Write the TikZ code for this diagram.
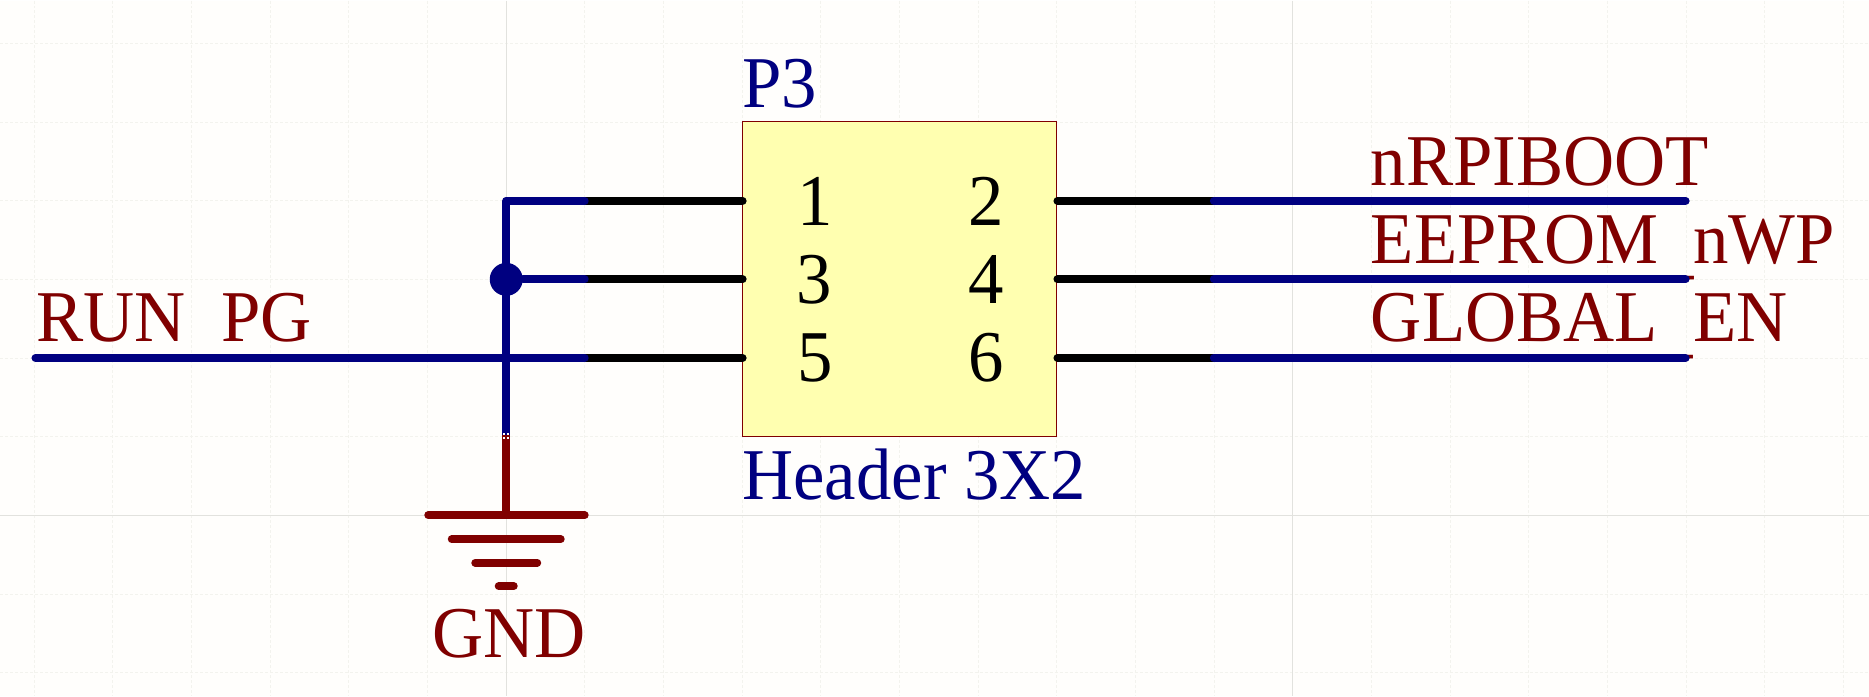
\documentclass[tikz,border=0pt]{standalone}
\usepackage{fontspec}
\setmainfont{Liberation Serif}[FakeStretch=0.97]
\usepackage{xcolor}
\usetikzlibrary{positioning}
\definecolor{sheetbg}{RGB}{255, 254, 252}
\definecolor{gridmajor}{RGB}{226, 226, 222}
\definecolor{gridminor}{RGB}{243, 243, 238}
\definecolor{partfill}{RGB}{255, 255, 176}
\definecolor{maroon}{RGB}{128, 0, 0}
\definecolor{navy}{RGB}{0, 0, 128}
\newcommand{\netbar}{\raisebox{-7.5pt}{\_}}

\begin{document}
\begin{tikzpicture}[
    x=1pt, y=-1pt,
    header/.style={rectangle, draw=maroon, fill=partfill, line width=1.2pt, inner sep=0pt, outer sep=0pt, minimum width=314pt, minimum height=314.7pt},
    txtlabel/.style={anchor=base west, inner sep=0pt, font=\fontsize{73}{80}\selectfont},
    netlabel/.style={txtlabel, text=maroon},
    partlabel/.style={txtlabel, text=navy},
    pinnum/.style={anchor=base, inner sep=0pt, text=black, font=\fontsize{73}{80}\selectfont},
    pin/.style={line width=8pt, line cap=round, draw=black},
    wire/.style={line width=8pt, line cap=round, line join=round, draw=navy},
    gndline/.style={line width=8pt, line cap=round, draw=maroon},
    junction/.style={circle, fill=navy, inner sep=0pt, minimum size=33pt}
]
    % sheet and grid
    \fill[sheetbg] (0,0) rectangle (1869,696);
    \foreach \k in {-6,...,17} {
        \draw[gridminor, line width=1pt, dash pattern=on 3pt off 2pt] ({506+78.7*\k},0) -- ({506+78.7*\k},696);
    }
    \foreach \k in {-6,...,2} {
        \draw[gridminor, line width=1pt, dash pattern=on 3pt off 2pt] (0,{515.4+78.7*\k}) -- (1869,{515.4+78.7*\k});
    }
    \draw[gridmajor, line width=1pt] (506,0) -- (506,696);
    \draw[gridmajor, line width=1pt] (1293,0) -- (1293,696);
    \draw[gridmajor, line width=1pt] (0,515.4) -- (1869,515.4);

    % net names, the wires cover their underscores
    \node[netlabel] (runpg) at (36,341.6) {RUN\netbar PG};
    \node[netlabel] (nrpiboot) at (1371,185) {nRPIBOOT};
    \node[netlabel] (eeprom) at (1371,263) {EEPROM\netbar nWP};
    \node[netlabel] (globalen) at (1371,341.6) {GLOBAL\netbar EN};

    % connector
    \node[header] (hdr) at (899.3,278.7) {};
    \node[partlabel] (refdes) at (742,106.7) {P3};
    \node[partlabel] (partname) at (742,499.3) {Header 3X2};

    \coordinate (pin3) at (742.5,279);
    \coordinate[above=78.6pt of pin3] (pin1);
    \coordinate[below=78.6pt of pin3] (pin5);
    \coordinate[right=315pt of pin3] (pin4);
    \coordinate[right=315pt of pin1] (pin2);
    \coordinate[right=315pt of pin5] (pin6);

    \node[pinnum] (num1) at (815,225) {1};
    \node[pinnum] (num2) at (986,225) {2};
    \node[pinnum] (num3) at (814,303) {3};
    \node[pinnum] (num4) at (986,303) {4};
    \node[pinnum] (num5) at (815,381.5) {5};
    \node[pinnum] (num6) at (986.5,381.5) {6};

    % pin stubs end where the wires start
    \coordinate[left=158pt of pin1] (w1);
    \coordinate[left=158pt of pin3] (w3);
    \coordinate[left=158pt of pin5] (w5);
    \coordinate[right=156.5pt of pin2] (w2);
    \coordinate[right=156.5pt of pin4] (w4);
    \coordinate[right=156.5pt of pin6] (w6);

    % ground symbol
    \coordinate (gndtop) at (506,435);
    \coordinate (gnd) at (506,515);
    \draw[gndline] (428,515) -- (584.5,515);
    \draw[gndline] (451.5,539) -- (560.5,539);
    \draw[gndline] (475,562.5) -- (537,562.5);
    \draw[gndline] (498.5,586) -- (513.5,586);
    \node[netlabel] (gndlabel) at (432,657) {GND};

    % pins
    \draw[pin] (w1) -- (pin1);
    \draw[pin] (w3) -- (pin3);
    \draw[pin] (w5) -- (pin5);
    \draw[pin] (pin2) -- (w2);
    \draw[pin] (pin4) -- (w4);
    \draw[pin] (pin6) -- (w6);

    % wires
    \coordinate (corner) at (506,200.4);
    \coordinate (netbot) at (506,434);
    \coordinate (runend) at (35,357.6);
    \coordinate (netend2) at (1686,200.4);
    \coordinate (netend4) at (1686,279);
    \coordinate (netend6) at (1686,357.6);
    \draw[wire] (w1) -- (corner) -- (netbot);
    \node[junction] (jct) at (506,279) {};
    \draw[wire] (jct) -- (w3);
    \draw[wire] (runend) -- (w5);
    \draw[wire] (w2) -- (netend2);
    \draw[wire] (w4) -- (netend4);
    \draw[wire] (w6) -- (netend6);
    \draw[gndline, line cap=butt] (gndtop) -- (gnd);

    % small marks where the net meets the power port
    \foreach \mx in {503,507} {
        \foreach \my in {433,437} {
            \fill[white] (\mx,\my) rectangle ++(2,2);
        }
    }
\end{tikzpicture}
\end{document}
